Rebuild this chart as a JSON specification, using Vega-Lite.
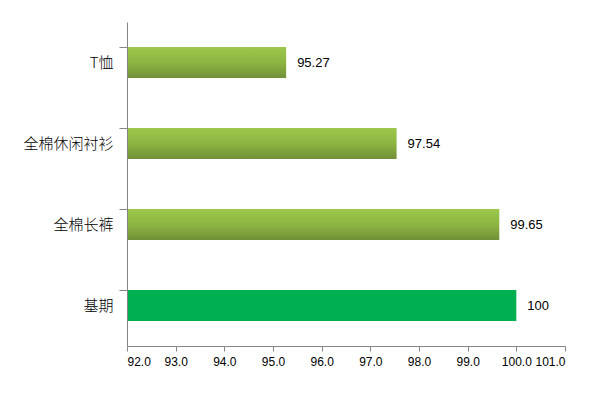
{
  "$schema": "https://vega.github.io/schema/vega-lite/v6.json",
  "autosize": "none",
  "width": 438,
  "height": 324,
  "padding": {"left": 127, "top": 22, "right": 44, "bottom": 49},
  "background": "white",
  "config": {"view": {"stroke": null}},
  "data": {"values": [
    {"cat": "T恤", "v": 95.27, "label": "95.27", "base": false},
    {"cat": "全棉休闲衬衫", "v": 97.54, "label": "97.54", "base": false},
    {"cat": "全棉长裤", "v": 99.65, "label": "99.65", "base": false},
    {"cat": "基期", "v": 100, "label": "100", "base": true}
  ]},
  "encoding": {
    "y": {"field": "cat", "type": "nominal", "sort": null,
      "scale": {"paddingInner": 0.62, "paddingOuter": 0.31},
      "axis": {"title": null, "bandPosition": 0, "domainColor": "#868686", "tickColor": "#868686", "tickSize": 8,
        "labelFont": "Noto Sans CJK SC", "labelFontSize": 15, "labelFontWeight": 300, "labelColor": "#000", "labelPadding": 6, "zindex": 1}},
    "x": {"field": "v", "type": "quantitative",
      "scale": {"domain": [92, 101], "nice": false, "zero": false, "clamp": true},
      "axis": {"title": null, "values": [92, 93, 94, 95, 96, 97, 98, 99, 100, 101], "format": ".1f", "grid": false,
        "domainColor": "#868686", "tickColor": "#868686", "tickSize": 5,
        "labelFont": "Liberation Sans", "labelFontSize": 12, "labelColor": "#000", "labelPadding": 5}}
  },
  "layer": [
    {"transform": [{"filter": "!datum.base"}],
     "mark": {"type": "bar", "fill": {"gradient": "linear", "x1": 0, "y1": 0, "x2": 0, "y2": 1,
        "stops": [{"offset": 0, "color": "#9cc84c"}, {"offset": 0.5, "color": "#8db542"}, {"offset": 1, "color": "#728f38"}]}}},
    {"transform": [{"filter": "datum.base"}],
     "mark": {"type": "bar", "fill": "#00b050"}},
    {"mark": {"type": "text", "align": "left", "dx": 11, "font": "Liberation Sans", "fontSize": 13, "color": "#000"},
     "encoding": {"text": {"field": "label"}}}
  ]
}
